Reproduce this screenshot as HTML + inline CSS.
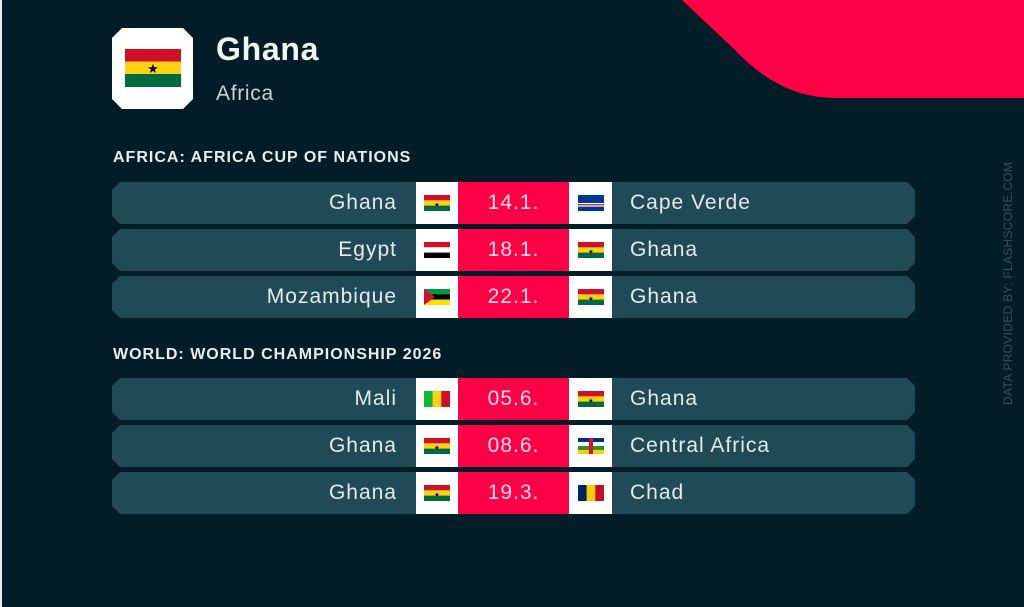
<!DOCTYPE html>
<html><head><meta charset="utf-8"><style>
*{margin:0;padding:0;box-sizing:border-box}
html,body{width:1024px;height:607px;overflow:hidden;background:#021d27}
body{position:relative;font-family:"Liberation Sans",sans-serif;color:#e3ebed}
.abs{position:absolute}
.row{position:absolute;left:112px;width:803px;height:42px;background:#1f4a56;clip-path:polygon(8px 0,795px 0,803px 8px,803px 34px,795px 42px,8px 42px,0 34px,0 8px)}
.home{position:absolute;right:518px;top:0;line-height:42px;font-size:21px;letter-spacing:1px;white-space:nowrap}
.away{position:absolute;left:518px;top:0;line-height:42px;font-size:21px;letter-spacing:1px;white-space:nowrap}
.w1{position:absolute;left:304px;top:0;width:42px;height:42px;background:#fff}
.w2{position:absolute;left:457px;top:0;width:43px;height:42px;background:#fff}
.red{position:absolute;left:346px;top:0;width:111px;height:42px;background:#ff0046;text-align:center;line-height:42px;font-size:21px;letter-spacing:1px;color:#fde}
.f{position:absolute;left:8px;top:13px;width:26px;height:16px}
.w2 .f{left:9px}
.sec{position:absolute;left:113px;font-size:16px;font-weight:bold;letter-spacing:1px;color:#e8eef0}
</style></head><body>
<div class="abs" style="left:0;top:0;width:2px;height:607px;background:#e8eef0"></div>
<svg class="abs" style="left:0;top:0" width="1024" height="110"><path d="M682 0 L735 50 Q780 98 835 98 L1024 98 L1024 0 Z" fill="#ff0046"/></svg>
<div class="abs" style="left:112px;top:28px;width:81px;height:81px;background:#fff;clip-path:polygon(10px 0,71px 0,81px 10px,81px 71px,71px 81px,10px 81px,0 71px,0 10px)">
<svg style="position:absolute;left:13px;top:21px" width="56" height="38"><rect width="56" height="13" fill="#ce1126"/><rect y="12.5" width="56" height="13" fill="#fcd116"/><rect y="25" width="56" height="13" fill="#006b3f"/><text x="28" y="24" font-size="13" text-anchor="middle" fill="#000">★</text></svg></div>
<div class="abs" style="left:216px;top:31px;font-size:32px;font-weight:bold;letter-spacing:.7px;color:#f2f5f6">Ghana</div>
<div class="abs" style="left:216px;top:82px;font-size:21px;letter-spacing:.7px;color:#c8d3d6">Africa</div>
<div class="sec" style="top:149px">AFRICA: AFRICA CUP OF NATIONS</div>
<div class="sec" style="top:346px">WORLD: WORLD CHAMPIONSHIP 2026</div>
<div class="abs" style="left:1001px;top:405px;transform:rotate(-90deg);transform-origin:0 0;font-size:12px;color:#3d4f57;white-space:nowrap;letter-spacing:.3px">DATA PROVIDED BY: FLASHSCORE.COM</div>

<svg width="0" height="0" style="position:absolute"><defs>
<g id="gh"><rect width="26" height="6" fill="#ce1126"/><rect y="5.3" width="26" height="6" fill="#fcd116"/><rect y="10.6" width="26" height="5.4" fill="#006b3f"/><text x="13" y="11.5" font-size="6" text-anchor="middle" fill="#000">★</text></g>
<g id="cv"><rect width="26" height="16" fill="#003893"/><rect y="8" width="26" height="1.2" fill="#fff"/><rect y="9.2" width="26" height="1.2" fill="#cf2027"/><rect y="10.4" width="26" height="1.2" fill="#fff"/></g>
<g id="eg"><rect width="26" height="5.4" fill="#ce1126"/><rect y="5.3" width="26" height="5.4" fill="#fff"/><rect y="10.6" width="26" height="5.4" fill="#000"/></g>
<g id="mz"><rect width="26" height="5.4" fill="#009a44"/><rect y="5.3" width="26" height="5.4" fill="#000"/><rect y="10.6" width="26" height="5.4" fill="#fce100"/><path d="M0 0 L11 8 L0 16Z" fill="#d21034"/></g>
<g id="ml"><rect width="9" height="16" fill="#14b53a"/><rect x="8.6" width="9" height="16" fill="#fcd116"/><rect x="17.3" width="8.7" height="16" fill="#ce1126"/></g>
<g id="cf"><rect width="26" height="4" fill="#003082"/><rect y="4" width="26" height="4" fill="#fff"/><rect y="8" width="26" height="4" fill="#289728"/><rect y="12" width="26" height="4" fill="#ffce00"/><rect x="11" width="4" height="16" fill="#d21034"/></g>
<g id="td"><rect width="9" height="16" fill="#002664"/><rect x="8.6" width="9" height="16" fill="#fecb00"/><rect x="17.3" width="8.7" height="16" fill="#c60c30"/></g>
</defs></svg>

<div class="row" style="top:182px"><div class="home">Ghana</div><div class="w1"><svg class="f"><use href="#gh"/></svg></div><div class="red">14.1.</div><div class="w2"><svg class="f"><use href="#cv"/></svg></div><div class="away">Cape Verde</div></div>
<div class="row" style="top:229px"><div class="home">Egypt</div><div class="w1"><svg class="f"><use href="#eg"/></svg></div><div class="red">18.1.</div><div class="w2"><svg class="f"><use href="#gh"/></svg></div><div class="away">Ghana</div></div>
<div class="row" style="top:276px"><div class="home">Mozambique</div><div class="w1"><svg class="f"><use href="#mz"/></svg></div><div class="red">22.1.</div><div class="w2"><svg class="f"><use href="#gh"/></svg></div><div class="away">Ghana</div></div>
<div class="row" style="top:378px"><div class="home">Mali</div><div class="w1"><svg class="f"><use href="#ml"/></svg></div><div class="red">05.6.</div><div class="w2"><svg class="f"><use href="#gh"/></svg></div><div class="away">Ghana</div></div>
<div class="row" style="top:425px"><div class="home">Ghana</div><div class="w1"><svg class="f"><use href="#gh"/></svg></div><div class="red">08.6.</div><div class="w2"><svg class="f"><use href="#cf"/></svg></div><div class="away">Central Africa</div></div>
<div class="row" style="top:472px"><div class="home">Ghana</div><div class="w1"><svg class="f"><use href="#gh"/></svg></div><div class="red">19.3.</div><div class="w2"><svg class="f"><use href="#td"/></svg></div><div class="away">Chad</div></div>
</body></html>
